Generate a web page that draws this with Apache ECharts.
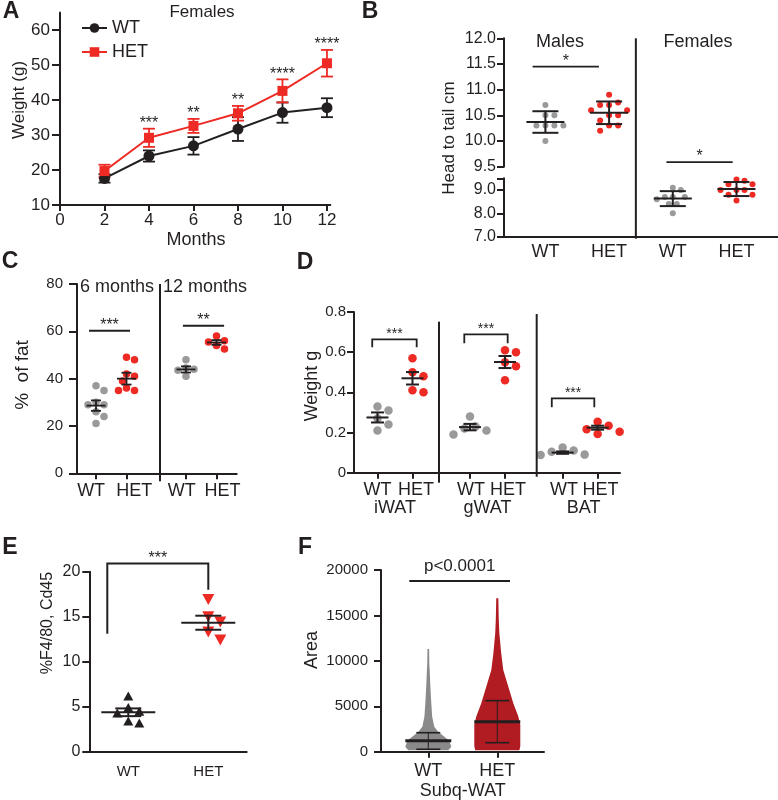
<!DOCTYPE html>
<html><head><meta charset="utf-8">
<script src="https://cdn.jsdelivr.net/npm/echarts@6/dist/echarts.min.js"></script>
<style>html,body{margin:0;padding:0;background:#fff}#c{width:778px;height:800px}</style>
</head><body><div id="c"></div>
<script>
// ================= DATA =================
// Panel A — body weight (females)
const monthsA   = [2, 4, 6, 8, 10, 12];
const wtMeanA   = [17.6, 24.0, 26.9, 31.7, 36.4, 37.8];
const wtErrA    = [1.2, 1.6, 2.5, 3.4, 2.9, 2.7];
const hetMeanA  = [19.7, 29.2, 32.6, 36.2, 42.6, 50.5];
const hetErrA   = [1.8, 2.6, 2.0, 2.1, 3.3, 3.8];
const sigA      = ['', '***', '**', '**', '****', '****'];
const ticksAX   = [0, 2, 4, 6, 8, 10, 12];
const ticksAY   = [10, 20, 30, 40, 50, 60];

// Panel B — head to tail (cm)
const catsB       = ['WT', 'HET', 'WT', 'HET'];
const maleWT_B    = [10.7, 10.5, 10.5, 10.3, 10.3, 10.3, 10.3, 10.0];
const maleHET_B   = [10.9, 10.75, 10.7, 10.7, 10.6, 10.6, 10.5, 10.5, 10.4, 10.3, 10.3, 10.2];
const femWT_B     = [9.1, 9.0, 8.7, 8.7, 8.7, 8.6, 8.4, 8.4, 8.0];
const femHET_B    = [9.45, 9.4, 9.25, 9.25, 9.0, 9.0, 9.0, 8.8, 8.8, 8.55];
const meanB       = [10.37, 10.55, 8.63, 9.04];
const errB        = [0.21, 0.22, 0.32, 0.30];
const ticksBUp    = [9.5, 10, 10.5, 11, 11.5, 12];
const ticksBLow   = [7, 8, 9];
const sigB        = [[0.80, 1.84, 11.45, '*'], [2.90, 3.94, 9.59, '*']];

// Panel C — % of fat
const catsC     = ['WT', 'HET', 'WT', 'HET'];
const wt6C      = [37, 35, 30, 29, 29, 26, 24, 21];
const het6C     = [49, 48, 42, 41, 39, 36, 35, 35];
const wt12C     = [48, 44.5, 44, 43.5, 41];
const het12C    = [58, 56, 55.5, 54, 52.5];
const meanC     = [28.6, 40.0, 43.9, 55.3];
const errC      = [2.2, 2.5, 1.3, 1.0];
const sigC      = [[0.77, 2.115, 60.2, '***'], [3.85, 5.2, 62.4, '**']];

// Panel D — fat pad weight (g)
const padsD     = ['iWAT', 'gWAT', 'BAT'];
const iwatWT_D  = [0.33, 0.31, 0.27, 0.24, 0.21];
const iwatHET_D = [0.57, 0.50, 0.48, 0.41, 0.40];
const gwatWT_D  = [0.28, 0.23, 0.22, 0.21, 0.19];
const gwatHET_D = [0.61, 0.60, 0.55, 0.53, 0.46];
const batWT_D   = [0.126, 0.11, 0.104, 0.09, 0.088];
const batHET_D  = [0.254, 0.234, 0.216, 0.204, 0.193];
const meanD     = [0.275, 0.47, 0.227, 0.551, 0.10, 0.224];
const errD      = [0.025, 0.031, 0.016, 0.03, 0.006, 0.01];
const sigD      = [[0.85, 2.12, 0.664, 0.624, 0.624, '***'], [3.48, 4.72, 0.689, 0.644, 0.644, '***'], [5.98, 7.195, 0.370, 0.326, 0.326, '***']];

// Panel E — %F4/80, Cd45
const catsE     = ['WT', 'HET'];
const wtE       = [6.2, 4.9, 4.5, 4.3, 3.4, 3.2];
const hetE      = [16.9, 15.0, 14.4, 13.3, 12.4];
const meanE     = [4.38, 14.33];
const errE      = [0.43, 0.78];
const sigE      = [[0.7375, 2.0, 20.9, 13.1, 18.0, '***']];

// Panel F — adipocyte area (density profile: [area, relative width])
const catsF     = ['WT', 'HET'];
const wtProfF   = [[150, 0.87], [550, 1], [1200, 0.91], [1650, 0.7], [2200, 0.43], [2750, 0.26], [3850, 0.17], [5300, 0.13], [7150, 0.09], [9000, 0.06], [9700, 0.045], [11300, 0.035]];
const hetProfF  = [[150, 0.96], [600, 1], [3000, 1], [3900, 0.91], [5300, 0.7], [7150, 0.48], [9000, 0.26], [10850, 0.17], [13050, 0.09], [14500, 0.065], [16900, 0.045]];
const meanF     = [1210, 3300];
const loF       = [270, 990];
const hiF       = [2090, 5620];
const sigF      = [[0.725, 2.184, 18800, 'p<0.0001']];

// ================= LAYOUT =================
const INK = '#231f20', RED = '#ee2a24', GREY = '#9a9a9a', FRED = '#b01c22', FGREY = '#8a8a8a';
const FF = '"Liberation Sans", Arial, Helvetica, sans-serif';
const font = (s, b) => (b ? 'bold ' : '') + s + 'px ' + FF;

const G = [
  {left: 60,   top: 12.5,  width: 270.3, height: 192.5}, // 0 A
  {left: 504,  top: 38.3,  width: 273.9, height: 128.4}, // 1 B upper
  {left: 504,  top: 178.3, width: 273.9, height: 58.4},  // 2 B lower
  {left: 77,   top: 284,   width: 159.7, height: 189.3}, // 3 C
  {left: 354,  top: 312,   width: 266,   height: 160.7}, // 4 D
  {left: 89.3, top: 571.7, width: 157.4, height: 180},   // 5 E
  {left: 381,  top: 570,   width: 163,   height: 181.7}  // 6 F
];
const RX = [[0, 12.15], [0.35, 4.65], [0.35, 4.65], [0.377, 5.613], [0.329, 7.929], [0.5125, 2.48], [0.3145, 2.677]];
const RY = [[10, 65], [9.5, 12], [7, 9.5], [0, 80], [0, 0.8], [0, 20], [0, 20000]];
const posB = [1, 2, 3, 4];
const posC = [1, 2, 3.95, 4.95];
const labPosC = [0.84, 2.25, 3.81, 5.15];
const posD = [1, 2, 3.643, 4.643, 6.29, 7.29];
const labPosD = [1.0, 2.1, 3.67, 4.73, 6.33, 7.37];
const posE = [1, 2];
const posF = [1, 2];
const pxX = g => G[g].width / (RX[g][1] - RX[g][0]);
const pxY = g => G[g].height / (RY[g][1] - RY[g][0]);

// deterministic beeswarm placement (pixel-space collision)
function swarm(g, values, center, coll) {
  const order = values.map((v, i) => i).sort((a, b) => values[b] - values[a]);
  const placed = [], out = [];
  const py = pxY(g), px = pxX(g);
  for (const i of order) {
    const v = values[i];
    let best = 0;
    outer: for (let k = 0; k < 60; k++) {
      const cands = k === 0 ? [0] : [k, -k];
      for (const c of cands) {
        const dx = c * coll * 0.5;
        if (placed.every(p => Math.hypot(p.dx - dx, (p.v - v) * py) >= coll)) { best = dx; break outer; }
      }
    }
    placed.push({dx: best, v});
    out[i] = [center + best / px, v];
  }
  return out;
}

function dots(g, pts, color, size, symbol, rot) {
  return {type: 'scatter', xAxisIndex: g, yAxisIndex: g, data: pts, symbol: symbol || 'circle',
    symbolSize: size, symbolRotate: rot || 0, itemStyle: {color: color, opacity: 1}, z: 2, silent: true, clip: false};
}

function errSeries(g, rows, o) {
  return {type: 'custom', xAxisIndex: g, yAxisIndex: g, clip: false, silent: true, z: o.z || 3,
    data: rows.map(r => [r[0], r[1]]),
    renderItem: (params, api) => {
      const r = rows[params.dataIndex];
      const m = api.coord([r[0], r[1]]), lo = api.coord([r[0], r[2]]), hi = api.coord([r[0], r[3]]);
      const col = o.color || INK;
      const st = {stroke: col, lineWidth: o.lw || 2};
      const ch = [
        {type: 'line', shape: {x1: m[0], y1: lo[1], x2: m[0], y2: hi[1]}, style: {stroke: col, lineWidth: o.vlw || o.lw || 2}},
        {type: 'line', shape: {x1: m[0] - o.cap, y1: lo[1], x2: m[0] + o.cap, y2: lo[1]}, style: st},
        {type: 'line', shape: {x1: m[0] - o.cap, y1: hi[1], x2: m[0] + o.cap, y2: hi[1]}, style: st}
      ];
      if (o.mean) ch.push({type: 'line', shape: {x1: m[0] - o.mean, y1: m[1], x2: m[0] + o.mean, y2: m[1]}, style: {stroke: col, lineWidth: o.mlw || o.lw || 2}});
      return {type: 'group', children: ch};
    }};
}

// rows: [x1, x2, yTop, yLegLeft, yLegRight, label]
function bracketSeries(g, rows, o) {
  return {type: 'custom', xAxisIndex: g, yAxisIndex: g, clip: false, silent: true, z: 4,
    data: rows.map(r => [r[0], r[2]]),
    renderItem: (params, api) => {
      const r = rows[params.dataIndex];
      const a = api.coord([r[0], r[3]]), b = api.coord([r[0], r[2]]), c = api.coord([r[1], r[2]]), d = api.coord([r[1], r[4]]);
      return {type: 'group', children: [
        {type: 'polyline', shape: {points: [a, b, c, d]}, style: {stroke: INK, lineWidth: o.lw || 1.8, fill: null}},
        {type: 'text', x: (b[0] + c[0]) / 2, y: b[1] - o.off, style: {text: r[5], font: o.font, fill: INK, align: 'center', verticalAlign: 'middle'}}
      ]};
    }};
}
// simple significance line rows: [x1, x2, y, label]
function sigLineSeries(g, rows, o) {
  return bracketSeries(g, rows.map(r => [r[0], r[1], r[2], r[2], r[2], r[3]]), o);
}

// vertical dividers rows: [x, yTop], extends extra px below given bottom
function dividerSeries(g, rows, extras, bottomAbs) {
  return {type: 'custom', xAxisIndex: g, yAxisIndex: g, clip: false, silent: true, z: 4,
    data: rows,
    renderItem: (params, api) => {
      const r = rows[params.dataIndex];
      const t = api.coord([r[0], r[1]]);
      const cs = params.coordSys;
      const bottom = (bottomAbs != null ? bottomAbs : cs.y + cs.height) + extras[params.dataIndex];
      return {type: 'line', shape: {x1: t[0], y1: t[1], x2: t[0], y2: bottom}, style: {stroke: INK, lineWidth: 2}};
    }};
}

// text under the axis
function underSeries(g, xs, labels, off, f) {
  return {type: 'custom', xAxisIndex: g, yAxisIndex: g, clip: false, silent: true, z: 4,
    data: xs.map(x => [x, RY[g][0]]),
    renderItem: (params, api) => {
      const p = api.coord([xs[params.dataIndex], RY[g][0]]);
      return {type: 'text', x: p[0], y: p[1] + off, style: {text: labels[params.dataIndex], font: f, fill: INK, align: 'center', verticalAlign: 'middle'}};
    }};
}

function violinSeries(g, x, prof, maxHalf, color) {
  return {type: 'custom', xAxisIndex: g, yAxisIndex: g, clip: false, silent: true, z: 1,
    data: [[x, prof[0][0]]],
    renderItem: (params, api) => {
      const right = prof.map(p => api.coord([x + p[1] * maxHalf, p[0]]));
      const left = prof.slice().reverse().map(p => api.coord([x - p[1] * maxHalf, p[0]]));
      return {type: 'polygon', shape: {points: right.concat(left)}, style: {fill: color}};
    }};
}

function xAxisDef(g, o) {
  return {gridIndex: g, type: 'value', min: RX[g][0], max: RX[g][1], show: o.show !== false,
    axisLine: {show: true, onZero: false, lineStyle: {color: INK, width: 2}},
    axisTick: {show: !!o.ticks, length: 6, inside: false, customValues: o.ticks || [], lineStyle: {color: INK, width: 2}},
    axisLabel: {show: o.noLabels ? false : true, customValues: o.labels || [], formatter: o.fmt, margin: o.margin, color: INK, fontSize: o.fs, fontFamily: FF,
      hideOverlap: false, interval: 0, showMinLabel: true, showMaxLabel: true},
    splitLine: {show: false}};
}
function yAxisDef(g, o) {
  return {gridIndex: g, type: 'value', min: RY[g][0], max: RY[g][1],
    axisLine: {show: true, onZero: false, lineStyle: {color: INK, width: 2}},
    axisTick: {show: true, length: o.tl || 7, inside: false, customValues: o.ticks, lineStyle: {color: INK, width: 2}},
    axisLabel: {show: true, customValues: o.labels || o.ticks, formatter: o.fmt || (v => String(v)), margin: o.margin, color: INK, fontSize: o.fs, fontFamily: FF,
      hideOverlap: false, showMinLabel: true, showMaxLabel: true},
    splitLine: {show: false}};
}
const lab = (pos, names) => v => { const i = pos.findIndex(p => Math.abs(p - v) < 1e-6); return i >= 0 ? names[i] : ''; };

// ================= OPTION =================
const series = [];
// --- A
series.push(errSeries(0, monthsA.map((m, i) => [m, wtMeanA[i], wtMeanA[i] - wtErrA[i], wtMeanA[i] + wtErrA[i]]), {cap: 6, lw: 1.8, color: INK, z: 1}));
series.push(errSeries(0, monthsA.map((m, i) => [m, hetMeanA[i], hetMeanA[i] - hetErrA[i], hetMeanA[i] + hetErrA[i]]), {cap: 6, lw: 1.8, color: RED, z: 1}));
series.push({type: 'line', name: 'WT', xAxisIndex: 0, yAxisIndex: 0, data: monthsA.map((m, i) => [m, wtMeanA[i]]),
  symbol: 'circle', symbolSize: 11, lineStyle: {color: INK, width: 2}, itemStyle: {color: INK}, z: 2, silent: true});
series.push({type: 'line', name: 'HET', xAxisIndex: 0, yAxisIndex: 0, data: monthsA.map((m, i) => [m, hetMeanA[i]]),
  symbol: 'rect', symbolSize: 10, lineStyle: {color: RED, width: 2}, itemStyle: {color: RED}, z: 3, silent: true});
series.push({type: 'custom', xAxisIndex: 0, yAxisIndex: 0, clip: false, silent: true, z: 4,
  data: monthsA.map((m, i) => [m, hetMeanA[i] + hetErrA[i]]),
  renderItem: (params, api) => {
    const i = params.dataIndex;
    const p = api.coord([monthsA[i], hetMeanA[i] + hetErrA[i]]);
    return {type: 'text', x: p[0], y: p[1] - 5, style: {text: sigA[i], font: font(16), fill: INK, align: 'center', verticalAlign: 'middle'}};
  }});

// --- B
series.push(dots(1, swarm(1, maleWT_B, posB[0], 9), GREY, 6));
series.push(dots(1, swarm(1, maleHET_B, posB[1], 9), RED, 6));
series.push(dots(2, swarm(2, femWT_B, posB[2], 8), GREY, 6));
series.push(dots(2, swarm(2, femHET_B, posB[3], 8), RED, 6));
series.push(errSeries(1, [0, 1].map(i => [posB[i], meanB[i], meanB[i] - errB[i], meanB[i] + errB[i]]), {cap: 13, mean: 19, lw: 2}));
series.push(errSeries(2, [2, 3].map(i => [posB[i], meanB[i], meanB[i] - errB[i], meanB[i] + errB[i]]), {cap: 13, mean: 19, lw: 2}));
series.push(dividerSeries(1, [[2.42, 12]], [2], G[2].top + G[2].height));
series.push(sigLineSeries(1, sigB, {off: 5, font: font(16), lw: 1.8}));

// --- C
series.push(dots(3, swarm(3, wt6C, posC[0], 8), GREY, 7.5));
series.push(dots(3, swarm(3, het6C, posC[1], 8), RED, 7.5));
series.push(dots(3, swarm(3, wt12C, posC[2], 8), GREY, 7.5));
series.push(dots(3, swarm(3, het12C, posC[3], 8), RED, 7.5));
series.push(errSeries(3, [0, 1, 2, 3].map(i => [posC[i], meanC[i], meanC[i] - errC[i], meanC[i] + errC[i]]), {cap: 5, mean: 9.5, lw: 1.8}));
series.push(dividerSeries(3, [[3.098, 80]], [8]));
series.push(sigLineSeries(3, sigC, {off: 5, font: font(16), lw: 2}));
series.push(underSeries(3, labPosC, catsC, 18, font(18)));

// --- D
const dGroups = [iwatWT_D, iwatHET_D, gwatWT_D, gwatHET_D, batWT_D, batHET_D];
dGroups.forEach((arr, i) => series.push(dots(4, swarm(4, arr, posD[i], 11), i % 2 ? RED : GREY, 8.5)));
series.push(errSeries(4, posD.map((p, i) => [p, meanD[i], meanD[i] - errD[i], meanD[i] + errD[i]]), {cap: 6.5, mean: 11, lw: 2}));
series.push(dividerSeries(4, [[2.757, 0.752], [5.549, 0.79]], [10, 4]));
series.push(bracketSeries(4, sigD, {off: 5, font: font(14), lw: 1.8}));
series.push(underSeries(4, labPosD, ['WT', 'HET', 'WT', 'HET', 'WT', 'HET'], 17, font(18)));
series.push(underSeries(4, [(posD[0] + posD[1]) / 2, (posD[2] + posD[3]) / 2, (posD[4] + posD[5]) / 2 + 0.1], padsD, 35, font(18)));

// --- E
series.push(dots(5, swarm(5, wtE, posE[0], 11), INK, [10, 9], 'triangle'));
series.push(dots(5, swarm(5, hetE, posE[1], 12), RED, [12, 11], 'triangle', 180));
series.push(errSeries(5, [0, 1].map(i => [posE[i], meanE[i], meanE[i] - errE[i], meanE[i] + errE[i]]), {cap: 13, mean: 27, lw: 2}));
series.push(bracketSeries(5, sigE, {off: 5, font: font(16), lw: 2}));

// --- F
const halfF = 23 / pxX(6);
series.push(violinSeries(6, posF[0], wtProfF, halfF, FGREY));
series.push(violinSeries(6, posF[1], hetProfF, halfF, FRED));
series.push(errSeries(6, [0, 1].map(i => [posF[i], meanF[i], loF[i], hiF[i]]), {cap: 12, mean: 23, lw: 1.6, vlw: 1, mlw: 3}));
series.push(sigLineSeries(6, sigF, {off: 15, font: font(17), lw: 2}));
series.push(underSeries(6, [1.5], ['Subq-WAT'], 39, font(18)));

const xAxes = [
  xAxisDef(0, {ticks: ticksAX, labels: ticksAX, fs: 17, margin: 7}),
  xAxisDef(1, {show: false}),
  xAxisDef(2, {labels: posB, fmt: lab(posB, catsB), fs: 18, margin: 6}),
  xAxisDef(3, {ticks: posC, noLabels: true}),
  xAxisDef(4, {ticks: posD, noLabels: true}),
  xAxisDef(5, {labels: posE, fmt: lab(posE, catsE), fs: 15, margin: 13}),
  xAxisDef(6, {ticks: posF, labels: posF, fmt: lab(posF, catsF), fs: 18, margin: 10})
];
xAxes[1].axisLine.show = false; xAxes[1].axisLabel.show = false;
const yAxes = [
  yAxisDef(0, {ticks: ticksAY, fs: 17, margin: 10, tl: 8}),
  yAxisDef(1, {ticks: ticksBUp, fmt: v => v.toFixed(1), fs: 16, margin: 8, tl: 7}),
  yAxisDef(2, {ticks: ticksBLow.concat([9.5]), labels: ticksBLow, fmt: v => v.toFixed(1), fs: 16, margin: 8, tl: 7}),
  yAxisDef(3, {ticks: [0, 20, 40, 60, 80], fs: 15, margin: 14, tl: 8}),
  yAxisDef(4, {ticks: [0, 0.2, 0.4, 0.6, 0.8], fmt: v => v === 0 ? '0' : v.toFixed(1), fs: 15, margin: 8, tl: 7}),
  yAxisDef(5, {ticks: [0, 5, 10, 15, 20], fs: 16, margin: 9, tl: 7}),
  yAxisDef(6, {ticks: [0, 5000, 10000, 15000, 20000], fmt: v => String(Math.round(v)), fs: 15, margin: 13, tl: 7})
];

const T = (text, x, y, f, rot) => ({type: 'text', x: x, y: y, rotation: rot || 0, silent: true,
  style: {text: text, font: f, fill: INK, align: 'center', verticalAlign: 'middle'}});
const graphics = [
  T('A', 11, 12, font(23, true)), T('B', 370, 12, font(23, true)), T('C', 10, 262, font(23, true)),
  T('D', 305, 263, font(23, true)), T('E', 10, 548, font(23, true)), T('F', 305, 548, font(23, true)),
  T('Females', 202, 12, font(17)), T('Months', 196, 240, font(18)), T('Weight (g)', 19, 100, font(17), Math.PI / 2),
  T('Males', 560, 42, font(18)), T('Females', 698, 42, font(18)), T('Head to tail cm', 449, 138, font(17), Math.PI / 2),
  T('6 months', 117, 287, font(18)), T('12 months', 205, 287, font(18)), T('%  of fat', 23, 375, font(19), Math.PI / 2),
  T('Weight g', 312, 386, font(18), Math.PI / 2),
  T('%F4/80, Cd45', 48, 623, font(16), Math.PI / 2),
  T('Area', 312, 650, font(18), Math.PI / 2)
];

const option = {
  animation: false,
  backgroundColor: '#fff',
  textStyle: {fontFamily: FF},
  grid: G.map(g => Object.assign({containLabel: false, outerBoundsMode: 'none'}, g)),
  xAxis: xAxes,
  yAxis: yAxes,
  legend: {data: ['WT', 'HET'], orient: 'vertical', left: 76, top: 14, itemWidth: 25, itemHeight: 12, itemGap: 6,
    textStyle: {fontSize: 18, color: INK, fontFamily: FF}, selectedMode: false},
  graphic: graphics,
  series: series
};
const chart = echarts.init(document.getElementById('c'), null, {renderer: 'canvas', width: 778, height: 800});
chart.setOption(option);
</script>
</body></html>
